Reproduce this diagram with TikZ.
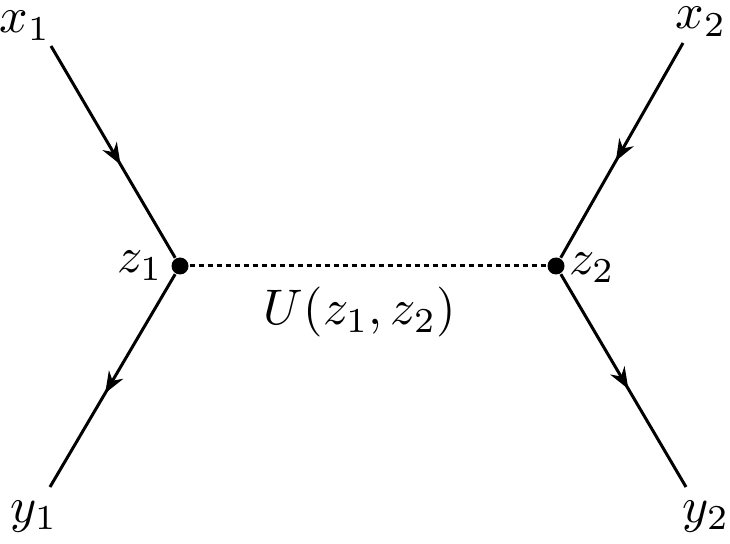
\documentclass[tikz,border=0pt]{standalone}
\usepackage{amsmath,amssymb}
\usepackage{tikz}
\usetikzlibrary{arrows.meta,decorations.markings}

\tikzset{
  fermion/.style={semithick, postaction={decorate},
    decoration={markings, mark=at position #1 with {\arrow{Stealth[length=4.3pt,width=3.3pt]}}}},
  fermion/.default=0.56,
  vertex/.style={circle, fill=black, inner sep=0pt, minimum size=3.4pt},
  scalar/.style={semithick, dash pattern=on 1pt off 0.8pt},
  leglabel/.style={anchor=base, inner sep=0.5pt},
}

\begin{document}
\begin{tikzpicture}[x=0.2pt, y=-0.2pt, >=Latex]
      \useasboundingbox (0,0) rectangle (730,544);
      % external legs
      \coordinate (in1) at (51,46);
      \coordinate (in2) at (683,43);
      \coordinate (out1) at (50,487);
      \coordinate (out2) at (686,487);
      % interaction points
      \node[vertex] (z1) at (180,266) {};
      \node[vertex] (z2) at (556,266) {};
      \draw[fermion] (in1) -- (z1);
      \draw[fermion] (z1) -- (out1);
      \draw[fermion=0.55] (in2) -- (z2);
      \draw[fermion=0.54] (z2) -- (out2);
      \draw[scalar] (z1) -- (z2);
      % labels
      \node[leglabel] (lx1) at (25,33) {$x_1$};
      \node[leglabel] (lx2) at (701,29) {$x_2$};
      \node[leglabel] (ly1) at (34,522) {$y_1$};
      \node[leglabel] (ly2) at (706,522) {$y_2$};
      \node[leglabel] (lz1) at (140,273) {$z_1$};
      \node[leglabel] (lz2) at (592,275) {$z_2$};
      \node[leglabel] (lu) at (360,325) {$U(z_1, z_2)$};
    \end{tikzpicture}
\end{document}
